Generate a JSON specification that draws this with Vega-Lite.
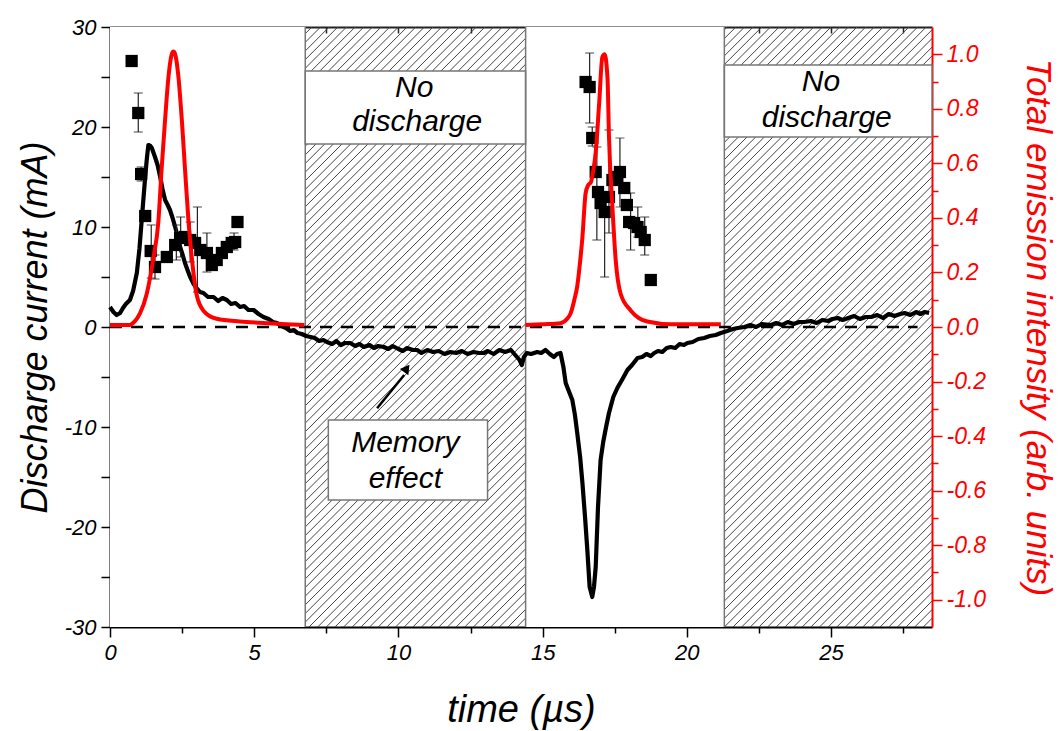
{
  "$schema": "https://vega.github.io/schema/vega-lite/v6.json",
  "width": 822,
  "height": 600,
  "autosize": {"type": "none"},
  "padding": {"left": 110, "top": 27, "right": 126, "bottom": 104},
  "background": "white",
  "config": {
    "font": "Liberation Sans",
    "view": {"stroke": null},
    "axis": {
      "labelFont": "Liberation Sans", "labelFontStyle": "italic", "labelFontSize": 22, "labelColor": "#000",
      "titleFont": "Liberation Sans", "titleFontStyle": "italic", "titleFontWeight": "normal", "titleColor": "#000",
      "domainColor": "#000", "domainWidth": 2, "tickColor": "#000", "tickWidth": 1.5, "grid": false,
      "labelPadding": 4, "labelOverlap": false, "labelFlush": false, "zindex": 1
    }
  },
  "datasets": {
    "hatch": [
      {"a":-14.1,"b":6.7},{"a":-13.8,"b":7},{"a":-13.5,"b":7.3},{"a":-13.2,"b":7.6},{"a":-12.9,"b":7.9},{"a":-12.6,"b":8.2},{"a":-12.3,"b":8.5},{"a":-12,"b":8.8},{"a":-11.7,"b":9.1},{"a":-11.4,"b":9.4},
      {"a":-11.1,"b":9.7},{"a":-10.8,"b":10},{"a":-10.5,"b":10.3},{"a":-10.2,"b":10.6},{"a":-9.9,"b":10.9},{"a":-9.6,"b":11.2},{"a":-9.3,"b":11.5},{"a":-9,"b":11.8},{"a":-8.7,"b":12.1},{"a":-8.4,"b":12.4},
      {"a":-8.1,"b":12.7},{"a":-7.8,"b":13},{"a":-7.5,"b":13.3},{"a":-7.2,"b":13.6},{"a":-6.9,"b":13.9},{"a":-6.6,"b":14.2},{"a":-6.3,"b":14.5},{"a":-6,"b":14.8},{"a":-5.7,"b":15.1},{"a":-5.4,"b":15.4},
      {"a":-5.1,"b":15.7},{"a":-4.8,"b":16},{"a":-4.5,"b":16.3},{"a":-4.2,"b":16.6},{"a":-3.9,"b":16.9},{"a":-3.6,"b":17.2},{"a":-3.3,"b":17.5},{"a":-3,"b":17.8},{"a":-2.7,"b":18.1},{"a":-2.4,"b":18.4},
      {"a":-2.1,"b":18.7},{"a":-1.8,"b":19},{"a":-1.5,"b":19.3},{"a":-1.2,"b":19.6},{"a":-0.9,"b":19.9},{"a":-0.6,"b":20.2},{"a":-0.3,"b":20.5},{"a":0,"b":20.8},{"a":0.3,"b":21.1},{"a":0.6,"b":21.4},
      {"a":0.9,"b":21.7},{"a":1.2,"b":22},{"a":1.5,"b":22.3},{"a":1.8,"b":22.6},{"a":2.1,"b":22.9},{"a":2.4,"b":23.2},{"a":2.7,"b":23.5},{"a":3,"b":23.8},{"a":3.3,"b":24.1},{"a":3.6,"b":24.4},
      {"a":3.9,"b":24.7},{"a":4.2,"b":25},{"a":4.5,"b":25.3},{"a":4.8,"b":25.6},{"a":5.1,"b":25.9},{"a":5.4,"b":26.2},{"a":5.7,"b":26.5},{"a":6,"b":26.8},{"a":6.3,"b":27.1},{"a":6.6,"b":27.4},
      {"a":6.9,"b":27.7},{"a":7.2,"b":28},{"a":7.5,"b":28.3},{"a":7.8,"b":28.6},{"a":8.1,"b":28.9},{"a":8.4,"b":29.2},{"a":8.7,"b":29.5},{"a":9,"b":29.8},{"a":9.3,"b":30.1},{"a":9.6,"b":30.4},
      {"a":9.9,"b":30.7},{"a":10.2,"b":31},{"a":10.5,"b":31.3},{"a":10.8,"b":31.6},{"a":11.1,"b":31.9},{"a":11.4,"b":32.2},{"a":11.7,"b":32.5},{"a":12,"b":32.8},{"a":12.3,"b":33.1},{"a":12.6,"b":33.4},
      {"a":12.9,"b":33.7},{"a":13.2,"b":34},{"a":13.5,"b":34.3},{"a":13.8,"b":34.6},{"a":14.1,"b":34.9},{"a":14.4,"b":35.2},{"a":14.7,"b":35.5},{"a":15,"b":35.8},{"a":15.3,"b":36.1},{"a":15.6,"b":36.4},
      {"a":15.9,"b":36.7},{"a":16.2,"b":37},{"a":16.5,"b":37.3},{"a":16.8,"b":37.6},{"a":17.1,"b":37.9},{"a":17.4,"b":38.2},{"a":17.7,"b":38.5},{"a":18,"b":38.8},{"a":18.3,"b":39.1},{"a":18.6,"b":39.4},
      {"a":18.9,"b":39.7},{"a":19.2,"b":40},{"a":19.5,"b":40.3},{"a":19.8,"b":40.6},{"a":20.1,"b":40.9},{"a":20.4,"b":41.2},{"a":20.7,"b":41.5},{"a":21,"b":41.8},{"a":21.3,"b":42.1},{"a":21.6,"b":42.4},
      {"a":21.9,"b":42.7},{"a":22.2,"b":43},{"a":22.5,"b":43.3},{"a":22.8,"b":43.6},{"a":23.1,"b":43.9},{"a":23.4,"b":44.2},{"a":23.7,"b":44.5},{"a":24,"b":44.8},{"a":24.3,"b":45.1},{"a":24.6,"b":45.4},
      {"a":24.9,"b":45.7},{"a":25.2,"b":46},{"a":25.5,"b":46.3},{"a":25.8,"b":46.6},{"a":26.1,"b":46.9},{"a":26.4,"b":47.2},{"a":26.7,"b":47.5},{"a":27,"b":47.8},{"a":27.3,"b":48.1},{"a":27.6,"b":48.4},
      {"a":27.9,"b":48.7},{"a":28.2,"b":49},{"a":28.5,"b":49.3}
    ],
    "masks": [
      {"x1":0,"x2":6.77,"y1":-30,"y2":30},
      {"x1":14.41,"x2":21.3,"y1":-30,"y2":30}
    ],
    "boxes": [
      {"x1":6.77,"x2":14.41,"y1":18.3,"y2":25.6},
      {"x1":21.3,"x2":28.5,"y1":19.0,"y2":26.2},
      {"x1":7.57,"x2":13.09,"y1":-17.3,"y2":-9.3}
    ],
    "edges": [{"x":6.77},{"x":14.41},{"x":21.3}],
    "zero": [{"x1":0,"x2":28.0,"y":0}],
    "current": [
      {"t":0.0,"v":2.0},{"t":0.12,"v":1.5},{"t":0.23,"v":1.2},{"t":0.35,"v":1.4},{"t":0.45,"v":1.9},{"t":0.55,"v":2.3},{"t":0.69,"v":2.7},{"t":0.8,"v":3.6},{"t":0.93,"v":5.4},{"t":1.02,"v":7.8},
      {"t":1.1,"v":10.7},{"t":1.17,"v":13.2},{"t":1.22,"v":15.0},{"t":1.28,"v":16.9},{"t":1.33,"v":18.2},{"t":1.4,"v":18.1},{"t":1.45,"v":17.9},{"t":1.56,"v":17.0},{"t":1.65,"v":16.2},{"t":1.74,"v":15.0},
      {"t":1.82,"v":13.8},{"t":1.91,"v":12.7},{"t":2.0,"v":12.2},{"t":2.08,"v":11.7},{"t":2.17,"v":10.9},{"t":2.26,"v":10.0},{"t":2.35,"v":9.0},{"t":2.43,"v":8.0},{"t":2.52,"v":7.2},{"t":2.6,"v":6.4},
      {"t":2.7,"v":5.6},{"t":2.78,"v":5.0},{"t":2.9,"v":4.3},{"t":3.0,"v":3.9},{"t":3.12,"v":3.5},{"t":3.24,"v":3.4},{"t":3.4,"v":3.0},{"t":3.59,"v":3.0},{"t":3.75,"v":2.6},{"t":3.9,"v":2.9},
      {"t":4.05,"v":2.7},{"t":4.2,"v":2.3},{"t":4.35,"v":2.4},{"t":4.51,"v":2.0},{"t":4.65,"v":2.1},{"t":4.8,"v":1.7},{"t":4.98,"v":1.7},{"t":5.15,"v":1.3},{"t":5.32,"v":1.0},{"t":5.5,"v":0.8},
      {"t":5.65,"v":0.5},{"t":5.79,"v":0.4},{"t":5.95,"v":0.1},{"t":6.1,"v":-0.1},{"t":6.25,"v":-0.4},{"t":6.37,"v":-0.3},{"t":6.5,"v":-0.6},{"t":6.65,"v":-0.7},{"t":6.8,"v":-0.9},{"t":6.95,"v":-1.0},
      {"t":7.1,"v":-1.1},{"t":7.25,"v":-1.4},{"t":7.4,"v":-1.3},{"t":7.52,"v":-1.5},{"t":7.7,"v":-1.7},{"t":7.85,"v":-1.4},{"t":8.0,"v":-1.8},{"t":8.15,"v":-1.6},{"t":8.33,"v":-1.6},{"t":8.5,"v":-1.9},
      {"t":8.65,"v":-1.7},{"t":8.8,"v":-2.0},{"t":9.0,"v":-1.8},{"t":9.15,"v":-2.1},{"t":9.3,"v":-1.9},{"t":9.49,"v":-2.0},{"t":9.65,"v":-2.2},{"t":9.8,"v":-1.9},{"t":10.0,"v":-2.2},{"t":10.15,"v":-2.4},
      {"t":10.3,"v":-2.1},{"t":10.5,"v":-2.3},{"t":10.65,"v":-2.3},{"t":10.8,"v":-2.6},{"t":11.0,"v":-2.3},{"t":11.2,"v":-2.5},{"t":11.4,"v":-2.4},{"t":11.6,"v":-2.7},{"t":11.8,"v":-2.5},{"t":12.0,"v":-2.6},
      {"t":12.2,"v":-2.4},{"t":12.4,"v":-2.7},{"t":12.6,"v":-2.5},{"t":12.8,"v":-2.6},{"t":12.96,"v":-2.6},{"t":13.1,"v":-2.4},{"t":13.3,"v":-2.7},{"t":13.5,"v":-2.3},{"t":13.7,"v":-2.5},{"t":13.9,"v":-2.3},
      {"t":14.05,"v":-2.8},{"t":14.2,"v":-3.3},{"t":14.28,"v":-3.8},{"t":14.35,"v":-3.0},{"t":14.45,"v":-2.6},{"t":14.6,"v":-2.7},{"t":14.81,"v":-2.5},{"t":14.95,"v":-2.6},{"t":15.1,"v":-2.3},{"t":15.25,"v":-2.7},
      {"t":15.39,"v":-3.0},{"t":15.5,"v":-2.7},{"t":15.62,"v":-2.6},{"t":15.72,"v":-4.0},{"t":15.8,"v":-5.6},{"t":15.92,"v":-6.5},{"t":16.03,"v":-7.3},{"t":16.12,"v":-8.8},{"t":16.2,"v":-10.6},{"t":16.3,"v":-13.0},
      {"t":16.38,"v":-15.6},{"t":16.47,"v":-19.0},{"t":16.55,"v":-22.3},{"t":16.63,"v":-26.0},{"t":16.72,"v":-27.0},{"t":16.78,"v":-26.0},{"t":16.84,"v":-24.0},{"t":16.92,"v":-18.0},{"t":17.01,"v":-13.3},{"t":17.1,"v":-11.5},
      {"t":17.2,"v":-10.0},{"t":17.3,"v":-8.6},{"t":17.45,"v":-7.0},{"t":17.59,"v":-6.1},{"t":17.75,"v":-5.3},{"t":17.94,"v":-4.3},{"t":18.1,"v":-3.8},{"t":18.29,"v":-3.1},{"t":18.45,"v":-3.0},{"t":18.6,"v":-2.7},
      {"t":18.75,"v":-2.9},{"t":18.87,"v":-2.6},{"t":19.0,"v":-2.4},{"t":19.15,"v":-2.5},{"t":19.3,"v":-2.1},{"t":19.44,"v":-2.0},{"t":19.6,"v":-2.1},{"t":19.75,"v":-1.7},{"t":19.9,"v":-1.8},{"t":20.02,"v":-1.6},
      {"t":20.2,"v":-1.5},{"t":20.4,"v":-1.2},{"t":20.6,"v":-1.1},{"t":20.8,"v":-0.9},{"t":21.0,"v":-0.8},{"t":21.18,"v":-0.6},{"t":21.4,"v":-0.4},{"t":21.6,"v":-0.2},{"t":21.76,"v":-0.1},{"t":22.0,"v":0.0},
      {"t":22.2,"v":0.2},{"t":22.4,"v":0.0},{"t":22.6,"v":0.3},{"t":22.92,"v":0.2},{"t":23.1,"v":0.4},{"t":23.3,"v":0.2},{"t":23.5,"v":0.5},{"t":23.7,"v":0.3},{"t":23.9,"v":0.5},{"t":24.07,"v":0.5},
      {"t":24.3,"v":0.6},{"t":24.5,"v":0.4},{"t":24.7,"v":0.7},{"t":24.9,"v":0.6},{"t":25.05,"v":0.8},{"t":25.23,"v":0.9},{"t":25.4,"v":0.7},{"t":25.6,"v":0.9},{"t":25.8,"v":1.1},{"t":26.0,"v":0.8},
      {"t":26.2,"v":1.0},{"t":26.39,"v":1.0},{"t":26.6,"v":1.2},{"t":26.8,"v":0.9},{"t":27.0,"v":1.3},{"t":27.2,"v":1.1},{"t":27.4,"v":1.3},{"t":27.55,"v":1.4},{"t":27.75,"v":1.2},{"t":27.95,"v":1.5},
      {"t":28.1,"v":1.3},{"t":28.25,"v":1.5},{"t":28.4,"v":1.4}
    ],
    "errs": [
      {"t":0.98,"lo":19.5,"hi":23.4},{"t":1.08,"lo":14.6,"hi":16.0},{"t":1.43,"lo":4.9,"hi":10.2},{"t":1.56,"lo":4.8,"hi":7.2},
      {"t":2.3,"lo":6.7,"hi":10.2},{"t":2.45,"lo":7.0,"hi":11.0},{"t":2.78,"lo":6.5,"hi":10.5},{"t":3.03,"lo":3.5,"hi":12.0},{"t":3.36,"lo":5.5,"hi":9.4},{"t":4.3,"lo":7.7,"hi":9.4},
      {"t":16.63,"lo":20.4,"hi":27.4},{"t":16.72,"lo":18.1,"hi":20.0},{"t":16.88,"lo":8.7,"hi":18.0},{"t":17.15,"lo":5.0,"hi":13.0},{"t":17.3,"lo":9.4,"hi":19.7},
      {"t":17.68,"lo":12.0,"hi":18.9},{"t":18.05,"lo":7.7,"hi":13.4},{"t":18.3,"lo":9.0,"hi":12.0},{"t":18.54,"lo":7.2,"hi":11.0}
    ],
    "squares": [
      {"t":0.75,"v":26.6},{"t":0.98,"v":21.4},{"t":1.08,"v":15.3},{"t":1.22,"v":11.1},{"t":1.41,"v":7.6},{"t":1.56,"v":6.0},{"t":1.97,"v":7.0},{"t":2.26,"v":8.2},{"t":2.43,"v":8.9},{"t":2.6,"v":9.0},
      {"t":2.78,"v":8.7},{"t":2.95,"v":8.4},{"t":3.13,"v":7.7},{"t":3.36,"v":7.4},{"t":3.53,"v":6.2},{"t":3.7,"v":6.7},{"t":3.88,"v":7.4},{"t":4.05,"v":8.0},{"t":4.22,"v":8.4},{"t":4.34,"v":8.5},{"t":4.42,"v":10.5},
      {"t":16.49,"v":24.5},{"t":16.63,"v":24.0},{"t":16.72,"v":18.9},{"t":16.84,"v":15.5},{"t":16.92,"v":13.5},{"t":17.01,"v":12.4},{"t":17.15,"v":11.5},{"t":17.3,"v":13.0},{"t":17.42,"v":14.7},{"t":17.59,"v":15.0},
      {"t":17.68,"v":15.5},{"t":17.83,"v":13.9},{"t":17.92,"v":12.2},{"t":18.0,"v":10.5},{"t":18.17,"v":10.4},{"t":18.29,"v":10.0},{"t":18.4,"v":9.5},{"t":18.54,"v":8.7},{"t":18.75,"v":4.7}
    ],
    "arrow": [{"x1":9.26,"y1":-8.13,"x2":10.2,"y2":-4.8}],
    "arrowhead": [{"t":10.29,"v":-4.15}],
    "labels": [
      {"t":10.55,"v":23.9,"text":"No"},{"t":10.65,"v":20.5,"text":"discharge"},
      {"t":24.65,"v":24.5,"text":"No"},{"t":24.85,"v":20.9,"text":"discharge"},
      {"t":10.24,"v":-11.6,"text":"Memory"},{"t":10.24,"v":-15.2,"text":"effect"}
    ],
    "emission": [
      {"seg":1,"t":0,"e":0.007},{"seg":1,"t":0.69,"e":0.007},{"seg":1,"t":0.85,"e":0.02},{"seg":1,"t":1.04,"e":0.05},{"seg":1,"t":1.27,"e":0.12},{"seg":1,"t":1.5,"e":0.25},{"seg":1,"t":1.68,"e":0.39},{"seg":1,"t":1.79,"e":0.58},
      {"seg":1,"t":1.91,"e":0.76},{"seg":1,"t":2.03,"e":0.92},{"seg":1,"t":2.14,"e":1.0},{"seg":1,"t":2.2,"e":1.01},{"seg":1,"t":2.26,"e":1.0},{"seg":1,"t":2.37,"e":0.92},{"seg":1,"t":2.49,"e":0.76},{"seg":1,"t":2.6,"e":0.58},
      {"seg":1,"t":2.72,"e":0.39},{"seg":1,"t":2.84,"e":0.25},{"seg":1,"t":3.0,"e":0.12},{"seg":1,"t":3.24,"e":0.06},{"seg":1,"t":3.7,"e":0.03},{"seg":1,"t":4.5,"e":0.02},{"seg":1,"t":5.44,"e":0.014},{"seg":1,"t":6.1,"e":0.01},{"seg":1,"t":6.74,"e":0.007},
      {"seg":2,"t":14.41,"e":0.007},{"seg":2,"t":15.0,"e":0.01},{"seg":2,"t":15.62,"e":0.014},{"seg":2,"t":15.85,"e":0.03},{"seg":2,"t":15.97,"e":0.05},{"seg":2,"t":16.1,"e":0.1},{"seg":2,"t":16.2,"e":0.15},{"seg":2,"t":16.3,"e":0.24},
      {"seg":2,"t":16.38,"e":0.33},{"seg":2,"t":16.49,"e":0.49},{"seg":2,"t":16.58,"e":0.52},{"seg":2,"t":16.67,"e":0.53},{"seg":2,"t":16.75,"e":0.57},{"seg":2,"t":16.84,"e":0.64},{"seg":2,"t":16.96,"e":0.82},{"seg":2,"t":17.07,"e":0.99},
      {"seg":2,"t":17.15,"e":1.0},{"seg":2,"t":17.25,"e":0.91},{"seg":2,"t":17.3,"e":0.7},{"seg":2,"t":17.42,"e":0.44},{"seg":2,"t":17.53,"e":0.25},{"seg":2,"t":17.71,"e":0.12},{"seg":2,"t":18.06,"e":0.06},{"seg":2,"t":18.63,"e":0.02},
      {"seg":2,"t":19.44,"e":0.01},{"seg":2,"t":21.18,"e":0.01}
    ]
  },
  "layer": [
    {
      "layer": [
        {
          "data": {"name": "hatch"},
          "mark": {"type": "rule", "clip": true, "color": "#444", "strokeWidth": 1},
          "encoding": {
            "x": {"field": "a", "type": "quantitative", "title": "time (µs)"},
            "x2": {"field": "b"},
            "y": {"datum": -30, "type": "quantitative", "title": "Discharge current (mA)"},
            "y2": {"datum": 30}
          }
        },
        {
          "data": {"name": "masks"},
          "mark": {"type": "rect", "fill": "white", "strokeWidth": 0},
          "encoding": {
            "x": {
              "field": "x1", "type": "quantitative",
              "scale": {"domain": [0, 28.5], "nice": false, "zero": false},
              "axis": {
                "orient": "bottom",
                "values": [0, 2.5, 5, 7.5, 10, 12.5, 15, 17.5, 20, 22.5, 25, 27.5],
                "labelExpr": "datum.value % 5 === 0 ? datum.label : ''",
                "tickSize": {"condition": {"test": "datum.value % 5 === 0", "value": 10}, "value": 6},
                "labelPadding": 5,
                "title": "time (µs)", "titleFontSize": 38, "titlePadding": 28
              }
            },
            "x2": {"field": "x2"},
            "y": {
              "field": "y1", "type": "quantitative",
              "scale": {"domain": [-30, 30], "nice": false, "zero": false},
              "axis": {
                "orient": "left",
                "values": [-30, -25, -20, -15, -10, -5, 0, 5, 10, 15, 20, 25, 30],
                "labelExpr": "datum.value % 10 === 0 ? ((datum.value < 0 ? '-' : '') + abs(datum.value)) : ''",
                "tickSize": 9, "labelPadding": 5,
                "title": "Discharge current (mA)", "titleFontSize": 36, "titlePadding": 10
              }
            },
            "y2": {"field": "y2"}
          }
        },
        {
          "data": {"name": "boxes"},
          "mark": {"type": "rect", "fill": "white", "stroke": "#777", "strokeWidth": 1.5},
          "encoding": {
            "x": {"field": "x1", "type": "quantitative", "title": "time (µs)"},
            "x2": {"field": "x2"},
            "y": {"field": "y1", "type": "quantitative", "title": "Discharge current (mA)"},
            "y2": {"field": "y2"}
          }
        },
        {
          "data": {"name": "edges"},
          "mark": {"type": "rule", "color": "#777", "strokeWidth": 1.5},
          "encoding": {
            "x": {"field": "x", "type": "quantitative", "title": "time (µs)"},
            "y": {"datum": -30, "type": "quantitative", "title": "Discharge current (mA)"},
            "y2": {"datum": 30}
          }
        },
        {
          "data": {"name": "zero"},
          "mark": {"type": "rule", "color": "#000", "strokeWidth": 2.5, "strokeDash": [12, 9]},
          "encoding": {
            "x": {"field": "x1", "type": "quantitative", "title": "time (µs)"},
            "x2": {"field": "x2"},
            "y": {"field": "y", "type": "quantitative", "title": "Discharge current (mA)"}
          }
        },
        {
          "data": {"name": "current"},
          "mark": {"type": "line", "color": "#000", "strokeWidth": 4.2, "strokeJoin": "round"},
          "encoding": {
            "x": {"field": "t", "type": "quantitative", "title": "time (µs)"},
            "y": {"field": "v", "type": "quantitative", "title": "Discharge current (mA)"}
          }
        },
        {
          "data": {"name": "errs"},
          "mark": {"type": "errorbar", "ticks": {"size": 9}, "color": "#222", "thickness": 1.2},
          "encoding": {
            "x": {"field": "t", "type": "quantitative", "title": "time (µs)"},
            "y": {"field": "lo", "type": "quantitative", "title": "Discharge current (mA)"},
            "y2": {"field": "hi"}
          }
        },
        {
          "data": {"name": "squares"},
          "mark": {"type": "point", "shape": "square", "filled": true, "size": 150, "color": "#000", "opacity": 1},
          "encoding": {
            "x": {"field": "t", "type": "quantitative", "title": "time (µs)"},
            "y": {"field": "v", "type": "quantitative", "title": "Discharge current (mA)"}
          }
        },
        {
          "data": {"name": "arrow"},
          "mark": {"type": "rule", "color": "#000", "strokeWidth": 2.5},
          "encoding": {
            "x": {"field": "x1", "type": "quantitative", "title": "time (µs)"},
            "x2": {"field": "x2"},
            "y": {"field": "y1", "type": "quantitative", "title": "Discharge current (mA)"},
            "y2": {"field": "y2"}
          }
        },
        {
          "data": {"name": "arrowhead"},
          "mark": {"type": "point", "shape": "triangle-up", "filled": true, "size": 110, "angle": 36, "color": "#000", "opacity": 1},
          "encoding": {
            "x": {"field": "t", "type": "quantitative", "title": "time (µs)"},
            "y": {"field": "v", "type": "quantitative", "title": "Discharge current (mA)"}
          }
        },
        {
          "data": {"name": "labels"},
          "mark": {"type": "text", "font": "Liberation Sans", "fontStyle": "italic", "fontSize": 30, "align": "center", "baseline": "middle", "color": "#000"},
          "encoding": {
            "x": {"field": "t", "type": "quantitative", "title": "time (µs)"},
            "y": {"field": "v", "type": "quantitative", "title": "Discharge current (mA)"},
            "text": {"field": "text"}
          }
        }
      ]
    },
    {
      "data": {"name": "emission"},
      "mark": {"type": "line", "color": "#ff0000", "strokeWidth": 4, "interpolate": "monotone", "strokeJoin": "round"},
      "encoding": {
        "x": {
          "field": "t", "type": "quantitative",
          "scale": {"domain": [0, 28.5], "nice": false, "zero": false},
          "axis": {
            "orient": "top", "labels": false, "title": null,
            "values": [2.5, 5, 7.5, 10, 12.5, 15, 17.5, 20, 22.5, 25, 27.5],
            "tickSize": -6, "domainColor": "#222", "tickColor": "#222"
          }
        },
        "y": {
          "field": "e", "type": "quantitative",
          "scale": {"domain": [-1.1, 1.1], "nice": false, "zero": false},
          "axis": {
            "orient": "right",
            "values": [-1, -0.9, -0.8, -0.7, -0.6, -0.5, -0.4, -0.3, -0.2, -0.1, 0, 0.1, 0.2, 0.3, 0.4, 0.5, 0.6, 0.7, 0.8, 0.9, 1],
            "labelExpr": "abs(round(datum.value*10)) % 2 === 0 ? ((datum.value < -0.001 ? '-' : '') + format(abs(datum.value), '.1f')) : ''",
            "tickSize": {"condition": {"test": "abs(round(datum.value*10)) % 2 === 0", "value": 10}, "value": 6},
            "labelFontSize": 23, "labelPadding": 4,
            "domainColor": "#ff0000", "tickColor": "#ff0000", "labelColor": "#ff0000",
            "title": "Total emission intensity (arb. units)", "titleColor": "#ff0000", "titleFontSize": 35, "titlePadding": 34
          }
        },
        "detail": {"field": "seg", "type": "nominal"}
      }
    }
  ],
  "resolve": {"scale": {"y": "independent"}, "axis": {"x": "independent"}}
}
